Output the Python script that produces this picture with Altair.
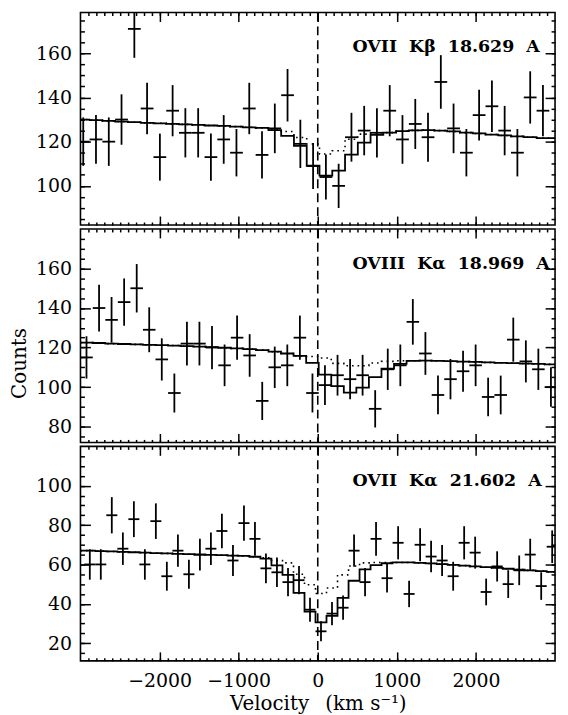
import altair as alt
import numpy as np
import pandas as pd

FONT = "DejaVu Serif"
XDOM = [-3000, 3000]

# ---------------- data ----------------
# OVII K-beta 18.629 A
top_v = [-2965, -2804, -2642, -2481, -2319, -2158, -1996, -1835, -1674, -1512,
         -1351, -1189, -1028, -866, -705, -543, -382, -220, -59, 103,
         264, 426, 587, 748, 910, 1071, 1233, 1394, 1556, 1717,
         1879, 2040, 2202, 2363, 2524, 2686, 2847]
top_counts = [120, 121, 120, 130, 171, 135, 113, 134, 124, 124,
              113, 121, 115, 135, 114, 126, 141, 119, 109, 104,
              100, 122, 125, 124, 134, 121, 128, 122, 147, 126,
              115, 132, 136, 125, 115, 140, 134]
top_model = [130.0, 129.7, 129.4, 129.1, 128.8, 128.5, 128.3, 128.0, 127.8, 127.6,
             127.3, 127.1, 126.8, 126.5, 126.2, 125.2, 122.6, 118.1, 109.1, 104.6,
             106.9, 114.1, 119.6, 123.1, 124.1, 124.8, 125.1, 125.2, 125.0, 124.6,
             124.1, 123.7, 123.2, 122.8, 122.4, 122.0, 121.6]
top_model_dot = [130.0, 129.7, 129.4, 129.1, 128.8, 128.5, 128.3, 128.0, 127.8, 127.6,
                 127.3, 127.1, 126.8, 126.5, 126.2, 125.6, 124.6, 121.9, 118.9, 114.4,
                 115.9, 121.1, 123.4, 124.0, 124.1, 124.8, 125.1, 125.2, 125.0, 124.6,
                 124.1, 123.7, 123.2, 122.8, 122.4, 122.0, 121.6]

# OVIII K-alpha 18.969 A
mid_v = [-2924, -2765, -2607, -2448, -2289, -2131, -1972, -1813, -1654, -1496,
         -1337, -1178, -1020, -861, -702, -544, -385, -226, -67, 91,
         250, 409, 567, 726, 885, 1044, 1202, 1361, 1520, 1678,
         1837, 1996, 2154, 2313, 2472, 2631, 2789, 2948]
mid_counts = [115, 140, 134, 143, 150, 129, 114, 97, 122, 122,
              120, 111, 125, 116, 93, 110, 111, 125, 97, 101,
              106, 104, 106, 89, 109, 111, 133, 117, 96, 104,
              108, 111, 95, 96, 124, 113, 109, 100]
mid_model = [122.5, 122.3, 122.0, 121.8, 121.6, 121.4, 121.2, 121.0, 120.7, 120.5,
             120.2, 119.9, 119.6, 119.2, 118.7, 117.9, 117.0, 115.8, 112.2, 106.3,
             100.5, 97.2, 99.7, 105.0, 109.3, 111.7, 113.3, 113.4, 113.3, 113.1,
             112.9, 112.7, 112.5, 112.3, 112.1, 111.9, 111.7, 111.5]
mid_model_dot = [122.5, 122.3, 122.0, 121.8, 121.6, 121.4, 121.2, 121.0, 120.7, 120.5,
                 120.2, 119.9, 119.6, 119.2, 118.7, 117.9, 117.0, 115.8, 115.5, 114.7,
                 112.0, 110.8, 110.8, 112.2, 113.0, 113.3, 113.3, 113.4, 113.3, 113.1,
                 112.9, 112.7, 112.5, 112.3, 112.1, 111.9, 111.7, 111.5]

# OVII K-alpha 21.602 A
bot_v = [-2882, -2743, -2604, -2464, -2325, -2186, -2047, -1908, -1768, -1629,
         -1490, -1351, -1212, -1072, -933, -794, -655, -516, -376, -237,
         -98, 41, 180, 320, 459, 598, 737, 876, 1016, 1155,
         1294, 1433, 1572, 1712, 1851, 1990, 2129, 2268, 2408, 2547,
         2686, 2825, 2964]
bot_counts = [60, 60, 85, 68, 83, 60, 82, 54, 67, 55,
              65, 68, 77, 62, 81, 73, 58, 56, 51, 52,
              37, 26, 35, 38, 67, 51, 73, 53, 71, 45,
              70, 64, 62, 54, 71, 66, 46, 59, 50, 57,
              65, 49, 69]
bot_model = [67.0, 66.8, 66.6, 66.4, 66.2, 66.0, 65.8, 65.6, 65.4, 65.2,
             65.0, 64.9, 64.7, 64.5, 64.3, 63.9, 63.0, 59.5, 54.7, 45.5,
             36.0, 30.5, 33.8, 43.0, 51.7, 57.5, 59.7, 60.6, 61.0, 61.0,
             60.8, 60.5, 60.2, 59.8, 59.4, 59.0, 58.6, 58.2, 57.8, 57.4,
             57.0, 56.6, 56.2]
bot_model_dot = [67.0, 66.8, 66.6, 66.4, 66.2, 66.0, 65.8, 65.6, 65.4, 65.2,
                 65.0, 64.9, 64.7, 64.5, 64.3, 63.9, 63.4, 62.0, 60.8, 55.0,
                 49.7, 45.2, 48.0, 54.7, 59.2, 60.8, 61.0, 61.0, 61.0, 61.0,
                 60.8, 60.5, 60.2, 59.8, 59.4, 59.0, 58.6, 58.2, 57.8, 57.4,
                 57.0, 56.6, 56.2]

labels = ["OVII\u00a0 K\u03b2\u00a0 18.629\u00a0 A",
          "OVIII\u00a0 K\u03b1\u00a0 18.969\u00a0 A",
          "OVII\u00a0 K\u03b1\u00a0 21.602\u00a0 A"]
x_title = "Velocity\u2002\u00a0(km s\u207b\u00b9)"
y_title = "Counts"

x_major = [-2000, -1000, 0, 1000, 2000]
x_minor = list(range(-2900, 3000, 100))
top_ymajor = [100, 120, 140, 160]
mid_ymajor = [80, 100, 120, 140, 160]
bot_ymajor = [20, 40, 60, 80, 100]
top_ydom = [82.3, 178.4]
mid_ydom = [72, 180]
bot_ydom = [11, 120]

PLOT_W = 478


def bin_edges(v):
    v = np.asarray(v, float)
    mids = (v[1:] + v[:-1]) / 2
    return np.concatenate([[v[0] - (v[1] - v[0]) / 2], mids, [v[-1] + (v[-1] - v[-2]) / 2]])


def step_table(e, m):
    ee = e.copy()
    ee[0] = min(ee[0], XDOM[0])
    ee[-1] = max(ee[-1], XDOM[1])
    rows = []
    for i, val in enumerate(m):
        rows.append({"v": ee[i], "c": val, "o": 2 * i})
        rows.append({"v": ee[i + 1], "c": val, "o": 2 * i + 1})
    return pd.DataFrame(rows)


def xaxis(orient, major, show_labels=False, title=None):
    size = 9 if major else 3
    kw = dict(orient=orient, values=x_major if major else x_minor,
              tickSize=size, offset=-size, domain=False, grid=False,
              labels=show_labels, ticks=True, tickColor="black", tickWidth=1.5,
              minExtent=0)
    if show_labels:
        kw.update(labelFont=FONT, labelFontSize=19, labelColor="black",
                  labelPadding=11, labelAngle=0, format="d")
    if title:
        kw.update(title=title, titleFont=FONT, titleFontSize=20, titleFontWeight="normal",
                  titleColor="black", titleY=58, titleBaseline="alphabetic")
    else:
        kw["title"] = None
    return alt.Axis(**kw)


def yaxis(orient, values, major, show_labels=False, title=None):
    size = 10 if major else 4
    kw = dict(orient=orient, values=values, tickSize=size, offset=-size,
              domain=False, grid=False, labels=show_labels, ticks=True,
              tickColor="black", tickWidth=1.5, minExtent=0)
    if show_labels:
        kw.update(labelFont=FONT, labelFontSize=19, labelColor="black", labelPadding=9)
    if title:
        kw.update(title=title, titleFont=FONT, titleFontSize=20, titleFontWeight="normal",
                  titleColor="black", titleAngle=270, titleX=-71, titleY=135,
                  titleAlign="center", titleBaseline="middle")
    else:
        kw["title"] = None
    return alt.Axis(**kw)


def panel(v, counts, model, dotted, ydom, ymajor, label, height, bottom, ytitle):
    e = bin_edges(v)
    c = np.asarray(counts, float)
    err = np.sqrt(c)
    pts = pd.DataFrame({"v": v, "c": c, "lo": c - err, "hi": c + err,
                        "el": e[:-1], "er": e[1:]})
    solid = step_table(e, model)
    dots = step_table(e, dotted)
    yminor = [t for t in range(0, 200, 5) if ydom[0] < t < ydom[1]]

    xs = alt.Scale(domain=XDOM, nice=False, zero=False, clamp=True)
    ys = alt.Scale(domain=ydom, nice=False, zero=False, clamp=True)

    vert = alt.Chart(pts).mark_rule(strokeWidth=1.8, color="black").encode(
        x=alt.X("v:Q", scale=xs,
                axis=xaxis("bottom", True, show_labels=bottom,
                           title=x_title if bottom else None)),
        y=alt.Y("lo:Q", scale=ys, axis=yaxis("left", ymajor, True, show_labels=True, title=ytitle)),
        y2="hi:Q",
    )
    horiz = alt.Chart(pts).mark_rule(strokeWidth=1.8, color="black").encode(
        x=alt.X("el:Q", scale=xs, axis=xaxis("top", True)),
        x2="er:Q",
        y=alt.Y("c:Q", scale=ys, axis=yaxis("right", ymajor, True)),
    )
    line = alt.Chart(solid).mark_line(strokeWidth=1.8, color="black").encode(
        x=alt.X("v:Q", scale=xs, axis=xaxis("bottom", False)),
        y=alt.Y("c:Q", scale=ys, axis=yaxis("left", yminor, False)),
        order="o:Q",
    )
    dline = alt.Chart(dots).mark_line(strokeWidth=1.6, color="black",
                                      strokeDash=[1.6, 4]).encode(
        x=alt.X("v:Q", scale=xs, axis=xaxis("top", False)),
        y=alt.Y("c:Q", scale=ys, axis=yaxis("right", yminor, False)),
        order="o:Q",
    )
    zero = alt.Chart(pd.DataFrame({"z": [0]})).mark_rule(
        strokeWidth=1.6, color="black", strokeDash=[9, 5]).encode(
        x=alt.XDatum(0, scale=xs, axis=None),
    )
    txt = alt.Chart(pd.DataFrame({"t": [label]})).mark_text(
        align="left", baseline="alphabetic", font=FONT, fontSize=17.5,
        fontWeight="bold", color="black").encode(
        x=alt.value(274), y=alt.value(40), text="t:N",
    )
    return alt.layer(line, dline, vert, horiz, zero, txt).resolve_axis(
        x="independent", y="independent").properties(width=PLOT_W, height=height)


p1 = panel(top_v, top_counts, top_model, top_model_dot, top_ydom, top_ymajor,
           labels[0], 214, False, None)
p2 = panel(mid_v, mid_counts, mid_model, mid_model_dot, mid_ydom, mid_ymajor,
           labels[1], 215, False, y_title)
p3 = panel(bot_v, bot_counts, bot_model, bot_model_dot, bot_ydom, bot_ymajor,
           labels[2], 216, True, None)

chart = alt.vconcat(p1, p2, p3, spacing=0).configure_view(
    stroke="black", strokeWidth=1.6).properties(
    padding={"left": 1, "right": 0, "top": 0, "bottom": 0}, background="white")

chart.save("out.html", embed_options={"renderer": "svg", "actions": False})
